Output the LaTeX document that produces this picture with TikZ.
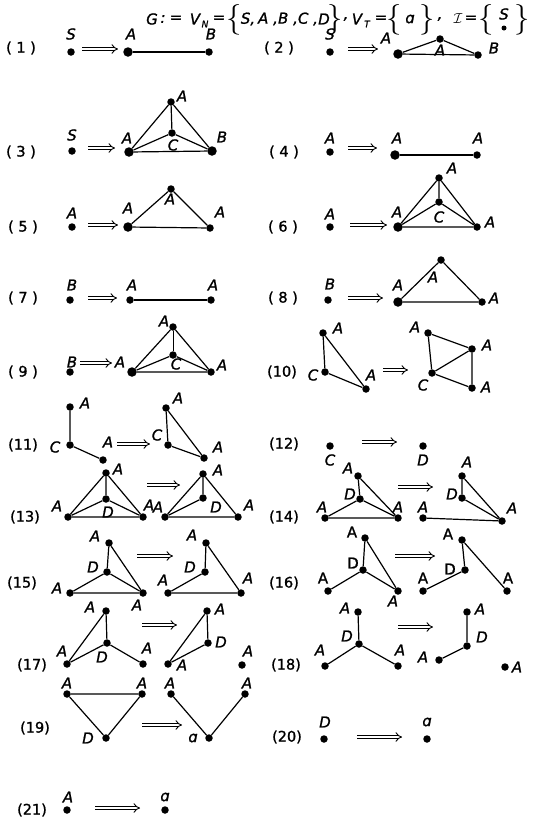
\documentclass[tikz,border=0pt]{standalone}
\usepackage{fontspec}
\usepackage{graphicx}
\setmainfont{DejaVu Sans}[UprightFeatures={FakeBold=1.2},ItalicFeatures={FakeBold=1.2}]
\usetikzlibrary{arrows.meta}
\newcommand\Arr[4]{\coordinate (#1s) at (#2,#4); \coordinate (#1e) at (#3,#4); \draw[impl] (#1s) -- (#1e);}
\newcommand\Tt[3]{\node[tit] (#1) at (#2,19) {#3};}
\newcommand\Tb[3]{\node[inner sep=0pt] (#1) at (#2,20) {\resizebox{!}{23pt}{$#3$}};}
\begin{document}
\begin{tikzpicture}[x=1pt,y=-1pt,
  dot/.style={circle,fill=black,inner sep=0pt,minimum size=7.5pt},
  bigdot/.style={circle,fill=black,inner sep=0pt,minimum size=9.5pt},
  lab/.style={font=\fontsize{15}{15}\selectfont\itshape,inner sep=0pt},
  ulab/.style={font=\fontsize{15}{15}\selectfont,inner sep=0pt},
  num/.style={font=\fontsize{14.5}{14.5}\selectfont,inner sep=0pt},
  tit/.style={font=\fontsize{15}{15}\selectfont\itshape,inner sep=0pt},
  sub/.style={font=\fontsize{9}{9}\selectfont\itshape,inner sep=0pt},
  edge/.style={line width=1.2pt},
  thinedge/.style={line width=0.6pt},
  impl/.style={double,double distance=2.4pt,line width=0.9pt,-{Implies}},
]
\fill[white] (0,0) rectangle (535,823);
\useasboundingbox (0,0) rectangle (535,823);
% title
\Tt{tg}{152}{G}
\Tt{tc}{163}{:}
\Tt{te1}{176}{=}
\Tt{tv1}{195}{V}
\node[sub] (tn) at (205,24) {N};
\Tt{te2}{219}{=}
\Tb{tb1}{234}{\{}
\Tt{ts}{248}{S,}
\Tt{ta}{268}{A ,}
\Tt{tbb}{288}{B ,}
\Tt{tcc}{308}{C ,}
\Tt{td}{324}{D}
\Tb{tb2}{335}{\}}
\Tt{tk1}{346}{,}
\Tt{tv2}{357}{V}
\node[sub] (tt) at (367,24) {T};
\Tt{te3}{381}{=}
\Tb{tb3}{394}{\{}
\Tt{tal}{410}{ɑ}
\Tb{tb4}{427}{\}}
\Tt{tk2}{440}{,}
\Tt{ti}{458}{$\mathcal{I}$}
\Tt{te4}{471}{=}
\Tb{tb5}{486}{\{}
\node[tit] (tss) at (504,14) {S};
\node[circle,fill=black,inner sep=0pt,minimum size=5pt] (tsd) at (504,28) {};
\Tb{tb6}{522}{\}}
% (1)
\node[num] (n1) at (21,48) {( 1 )};
\node[lab] (l1s) at (71,34) {S}; \node[dot] (v1s) at (71,52) {};
\Arr{a1}{82}{118}{49}
\node[lab] (l1a) at (131,34) {A}; \node[bigdot] (v1a) at (128,52) {};
\node[lab] (l1b) at (211,34) {B}; \node[dot] (v1b) at (209,52) {};
\draw[edge] (v1a) -- (v1b);
% (2)
\node[num] (n2) at (279,48) {( 2 )};
\node[lab] (l2s) at (330,34) {S}; \node[dot] (v2s) at (330,52) {};
\Arr{a2}{348}{378}{49}
\node[lab] (l2a) at (386,38) {A}; \node[bigdot] (v2a) at (398,54) {};
\node[dot] (v2t) at (440,39) {}; \node[lab] (l2t) at (440,50) {A};
\node[lab] (l2b) at (494,48) {B}; \node[dot] (v2b) at (478,55) {};
\draw[edge] (v2a) -- (v2t) -- (v2b) -- (v2a);
% (3)
\node[num] (n3) at (21,152) {( 3 )};
\node[lab] (l3s) at (72,135) {S}; \node[dot] (v3s) at (72,151) {};
\Arr{a3}{88}{115}{148}
\node[lab] (l3a) at (127,138) {A}; \node[bigdot] (v3a) at (129,152) {};
\node[dot] (v3t) at (171,102) {}; \node[lab] (l3t) at (182,96) {A};
\node[dot] (v3c) at (172,133) {}; \node[lab] (l3c) at (173,145) {C};
\node[bigdot] (v3b) at (212,151) {}; \node[lab] (l3b) at (222,137) {B};
\draw[edge] (v3a) -- (v3t) -- (v3b) -- (v3a) (v3t) -- (v3c) (v3a) -- (v3c) -- (v3b);
% (4)
\node[num] (n4) at (284,152) {( 4 )};
\node[lab] (l4s) at (330,138) {A}; \node[dot] (v4s) at (330,152) {};
\Arr{a4}{348}{377}{148}
\node[lab] (l4a) at (397,138) {A}; \node[bigdot] (v4a) at (395,155) {};
\node[lab] (l4b) at (478,138) {A}; \node[dot] (v4b) at (477,155) {};
\draw[edge] (v4a) -- (v4b);
% (5)
\node[num] (n5) at (23,227) {( 5 )};
\node[lab] (l5s) at (72,213) {A}; \node[dot] (v5s) at (72,227) {};
\Arr{a5}{88}{118}{225}
\node[lab] (l5a) at (128,208) {A}; \node[bigdot] (v5a) at (128,227) {};
\node[dot] (v5t) at (171,189) {}; \node[lab] (l5t) at (170,199) {A};
\node[lab] (l5b) at (220,212) {A}; \node[dot] (v5b) at (210,228) {};
\draw[edge] (v5a) -- (v5t) -- (v5b) -- (v5a);
% (6)
\node[num] (n6) at (283,227) {( 6 )};
\node[lab] (l6s) at (330,214) {A}; \node[dot] (v6s) at (330,227) {};
\Arr{a6}{350}{387}{225}
\node[lab] (l6a) at (397,212) {A}; \node[bigdot] (v6a) at (398,227) {};
\node[dot] (v6t) at (439,178) {}; \node[lab] (l6t) at (452,168) {A};
\node[dot] (v6c) at (439,202) {}; \node[lab] (l6c) at (439,217) {C};
\node[dot] (v6b) at (477,227) {}; \node[lab] (l6b) at (490,222) {A};
\draw[edge] (v6a) -- (v6t) -- (v6b) -- (v6a) (v6t) -- (v6c) (v6a) -- (v6c) -- (v6b);
% (7)
\node[num] (n7) at (23,298) {( 7 )};
\node[lab] (l7s) at (72,285) {B}; \node[dot] (v7s) at (70,300) {};
\Arr{a7}{88}{117}{298}
\node[lab] (l7a) at (132,285) {A}; \node[dot] (v7a) at (130,300) {};
\node[lab] (l7b) at (213,285) {A}; \node[dot] (v7b) at (211,300) {};
\draw[edge] (v7a) -- (v7b);
% (8)
\node[num] (n8) at (283,298) {( 8 )};
\node[lab] (l8s) at (330,284) {B}; \node[dot] (v8s) at (328,300) {};
\Arr{a8}{348}{383}{298}
\node[lab] (l8a) at (398,285) {A}; \node[bigdot] (v8a) at (398,302) {};
\node[dot] (v8t) at (441,260) {}; \node[lab] (l8t) at (433,277) {A};
\node[dot] (v8b) at (482,302) {}; \node[lab] (l8b) at (494,298) {A};
\draw[edge] (v8a) -- (v8t) -- (v8b) -- (v8a);
% (9)
\node[num] (n9) at (23,372) {( 9 )};
\node[lab] (l9s) at (72,362) {B}; \node[dot] (v9s) at (70,372) {};
\Arr{a9}{80}{112}{363}
\node[lab] (l9a) at (120,362) {A}; \node[bigdot] (v9a) at (132,372) {};
\node[dot] (v9t) at (173,327) {}; \node[lab] (l9t) at (164,321) {A};
\node[dot] (v9c) at (173,355) {}; \node[lab] (l9c) at (176,364) {C};
\node[dot] (v9b) at (211,372) {}; \node[lab] (l9b) at (222,365) {A};
\draw[edge] (v9a) -- (v9t) -- (v9b) -- (v9a) (v9a) -- (v9c) -- (v9b);
\draw[thinedge] (v9t) -- (v9c);
% (10)
\node[num] (n10) at (282,372) {(10)};
\node[dot] (v10t) at (323,333) {}; \node[lab] (l10t) at (338,328) {A};
\node[dot] (v10c) at (325,372) {}; \node[lab] (l10c) at (313,375) {C};
\node[dot] (v10b) at (366,389) {}; \node[lab] (l10b) at (371,375) {A};
\draw[edge] (v10t) -- (v10c) -- (v10b) -- (v10t);
\Arr{a10}{383}{408}{370}
\node[dot] (v10p) at (428,333) {}; \node[lab] (l10p) at (415,327) {A};
\node[dot] (v10q) at (472,349) {}; \node[lab] (l10q) at (487,345) {A};
\node[dot] (v10r) at (432,373) {}; \node[lab] (l10r) at (423,385) {C};
\node[dot] (v10s) at (472,388) {}; \node[lab] (l10s) at (486,387) {A};
\draw[edge] (v10p) -- (v10q) -- (v10s) -- (v10r) -- (v10p) (v10q) -- (v10r);
% (11)
\node[num] (n11) at (23,445) {(11)};
\node[dot] (v11t) at (70,407) {}; \node[lab] (l11t) at (85,403) {A};
\node[dot] (v11c) at (70,445) {}; \node[lab] (l11c) at (55,447) {C};
\node[dot] (v11b) at (103,460) {}; \node[lab] (l11b) at (108,442) {A};
\draw[edge] (v11t) -- (v11c) -- (v11b);
\Arr{a11}{117}{150}{444}
\node[dot] (v11p) at (166,408) {}; \node[lab] (l11p) at (178,398) {A};
\node[dot] (v11q) at (168,445) {}; \node[lab] (l11q) at (157,435) {C};
\node[dot] (v11r) at (204,458) {}; \node[lab] (l11r) at (218,447) {A};
\draw[edge] (v11p) -- (v11q) -- (v11r) -- (v11p);
% (12)
\node[num] (n12) at (284,444) {(12)};
\node[dot] (v12a) at (330,446) {}; \node[lab] (l12a) at (330,460) {C};
\Arr{a12}{362}{397}{442}
\node[dot] (v12b) at (423,446) {}; \node[lab] (l12b) at (423,460) {D};
% (13)
\node[num] (n13) at (25,517) {(13)};
\node[dot] (v13t) at (106,473) {}; \node[lab] (l13t) at (118,469) {A};
\node[dot] (v13c) at (106,499) {}; \node[lab] (l13c) at (108,512) {D};
\node[dot] (v13a) at (68,517) {}; \node[lab] (l13a) at (57,506) {A};
\node[dot] (v13b) at (143,517) {}; \node[lab] (l13b) at (149,505) {A};
\draw[edge] (v13a) -- (v13t) -- (v13b) -- (v13a) (v13t) -- (v13c) (v13a) -- (v13c) -- (v13b);
\Arr{a13}{147}{180}{485}
\node[dot] (v13p) at (203,474) {}; \node[lab] (l13p) at (218,470) {A};
\node[dot] (v13q) at (203,498) {}; \node[lab] (l13q) at (216,507) {D};
\node[dot] (v13r) at (165,517) {}; \node[lab] (l13r) at (158,507) {A};
\node[dot] (v13s) at (238,517) {}; \node[lab] (l13s) at (249,505) {A};
\draw[edge] (v13r) -- (v13p) -- (v13s) -- (v13r) (v13p) -- (v13q) -- (v13r);
% (14)
\node[num] (n14) at (284,517) {(14)};
\node[dot] (v14t) at (358,476) {}; \node[lab] (l14t) at (348,468) {A};
\node[dot] (v14c) at (360,499) {}; \node[lab] (l14c) at (350,494) {D};
\node[dot] (v14a) at (325,518) {}; \node[lab] (l14a) at (322,507) {A};
\node[dot] (v14b) at (398,518) {}; \node[lab] (l14b) at (398,507) {A};
\draw[edge] (v14t) -- (v14c) -- (v14a) -- (v14b) -- (v14t) (v14c) -- (v14b);
\Arr{a14}{398}{433}{487}
\node[dot] (v14p) at (462,476) {}; \node[lab] (l14p) at (467,462) {A};
\node[dot] (v14q) at (462,498) {}; \node[lab] (l14q) at (452,494) {D};
\node[dot] (v14r) at (423,518) {}; \node[lab] (l14r) at (423,507) {A};
\node[dot] (v14s) at (502,521) {}; \node[lab] (l14s) at (512,508) {A};
\draw[edge] (v14p) -- (v14q) -- (v14s) -- (v14p) (v14r) -- (v14s);
% (15)
\node[num] (n15) at (22,583) {(15)};
\node[dot] (v15t) at (109,543) {}; \node[lab] (l15t) at (95,536) {A};
\node[dot] (v15c) at (107,572) {}; \node[lab] (l15c) at (93,567) {D};
\node[dot] (v15a) at (70,593) {}; \node[lab] (l15a) at (57,588) {A};
\node[dot] (v15b) at (143,593) {}; \node[lab] (l15b) at (137,605) {A};
\draw[edge] (v15t) -- (v15c) -- (v15a) -- (v15b) -- (v15t) (v15c) -- (v15b);
\Arr{a15}{137}{173}{556}
\node[dot] (v15p) at (206,543) {}; \node[lab] (l15p) at (192,535) {A};
\node[dot] (v15q) at (205,572) {}; \node[lab] (l15q) at (190,567) {D};
\node[dot] (v15r) at (168,593) {}; \node[lab] (l15r) at (163,580) {A};
\node[dot] (v15s) at (241,593) {}; \node[lab] (l15s) at (248,578) {A};
\draw[edge] (v15p) -- (v15q) -- (v15r) -- (v15s) -- (v15p);
% (16)
\node[num] (n16) at (284,583) {(16)};
\node[dot] (v16t) at (365,538) {}; \node[ulab] (l16t) at (352,532) {A};
\node[dot] (v16c) at (363,570) {}; \node[ulab] (l16c) at (353,563) {D};
\node[dot] (v16a) at (328,591) {}; \node[ulab] (l16a) at (323,578) {A};
\node[dot] (v16b) at (398,591) {}; \node[lab] (l16b) at (393,601) {A};
\draw[edge] (v16t) -- (v16c) -- (v16a) (v16c) -- (v16b) -- (v16t);
\Arr{a16}{395}{435}{556}
\node[dot] (v16p) at (462,540) {}; \node[ulab] (l16p) at (448,534) {A};
\node[dot] (v16q) at (465,570) {}; \node[ulab] (l16q) at (450,569) {D};
\node[dot] (v16r) at (423,591) {}; \node[ulab] (l16r) at (423,578) {A};
\node[dot] (v16s) at (507,591) {}; \node[ulab] (l16s) at (508,578) {A};
\draw[edge] (v16s) -- (v16p) -- (v16q) -- (v16r);
% (17)
\node[num] (n17) at (32,665) {(17)};
\node[dot] (v17t) at (106,611) {}; \node[lab] (l17t) at (90,607) {A};
\node[dot] (v17c) at (107,643) {}; \node[lab] (l17c) at (102,657) {D};
\node[dot] (v17a) at (67,664) {}; \node[lab] (l17a) at (62,651) {A};
\node[dot] (v17b) at (143,664) {}; \node[lab] (l17b) at (147,648) {A};
\draw[edge] (v17t) -- (v17c) -- (v17a) -- (v17t) (v17c) -- (v17b);
\Arr{a17}{142}{177}{625}
\node[dot] (v17p) at (207,611) {}; \node[lab] (l17p) at (220,609) {A};
\node[dot] (v17q) at (208,643) {}; \node[lab] (l17q) at (221,642) {D};
\node[dot] (v17r) at (168,664) {}; \node[lab] (l17r) at (182,665) {A};
\node[dot] (v17s) at (242,665) {}; \node[lab] (l17s) at (248,651) {A};
\draw[edge] (v17p) -- (v17q) -- (v17r) -- (v17p);
% (18)
\node[num] (n18) at (286,665) {(18)};
\node[dot] (v18t) at (358,612) {}; \node[lab] (l18t) at (345,608) {A};
\node[dot] (v18c) at (359,644) {}; \node[lab] (l18c) at (347,636) {D};
\node[dot] (v18a) at (325,666) {}; \node[lab] (l18a) at (320,650) {A};
\node[dot] (v18b) at (398,666) {}; \node[lab] (l18b) at (400,650) {A};
\draw[edge] (v18t) -- (v18c) -- (v18a) (v18c) -- (v18b);
\Arr{a18}{398}{433}{627}
\node[dot] (v18p) at (467,612) {}; \node[lab] (l18p) at (480,609) {A};
\node[dot] (v18q) at (467,646) {}; \node[lab] (l18q) at (482,637) {D};
\node[dot] (v18r) at (439,660) {}; \node[lab] (l18r) at (423,657) {A};
\node[dot] (v18s) at (505,667) {}; \node[lab] (l18s) at (517,667) {A};
\draw[edge] (v18p) -- (v18q) -- (v18r);
% (19)
\node[num] (n19) at (35,728) {(19)};
\node[dot] (v19a) at (67,694) {}; \node[lab] (l19a) at (67,683) {A};
\node[dot] (v19b) at (142,694) {}; \node[lab] (l19b) at (142,683) {A};
\node[dot] (v19c) at (106,738) {}; \node[lab] (l19c) at (88,738) {D};
\draw[edge] (v19a) -- (v19b) -- (v19c) -- (v19a);
\Arr{a19}{142}{182}{725}
\node[dot] (v19p) at (171,694) {}; \node[lab] (l19p) at (170,683) {A};
\node[dot] (v19q) at (245,694) {}; \node[lab] (l19q) at (247,683) {A};
\node[dot] (v19r) at (209,738) {}; \node[lab] (l19r) at (193,738) {ɑ};
\draw[edge] (v19p) -- (v19r) -- (v19q);
% (20)
\node[num] (n20) at (287,737) {(20)};
\node[lab] (l20a) at (325,722) {D}; \node[dot] (v20a) at (324,739) {};
\Arr{a20}{357}{402}{737}
\node[lab] (l20b) at (427,722) {ɑ}; \node[dot] (v20b) at (427,739) {};
% (21)
\node[num] (n21) at (32,810) {(21)};
\node[lab] (l21a) at (68,797) {A}; \node[dot] (v21a) at (67,810) {};
\Arr{a21}{95}{140}{808}
\node[lab] (l21b) at (165,797) {ɑ}; \node[dot] (v21b) at (165,810) {};
\end{tikzpicture}
\end{document}
